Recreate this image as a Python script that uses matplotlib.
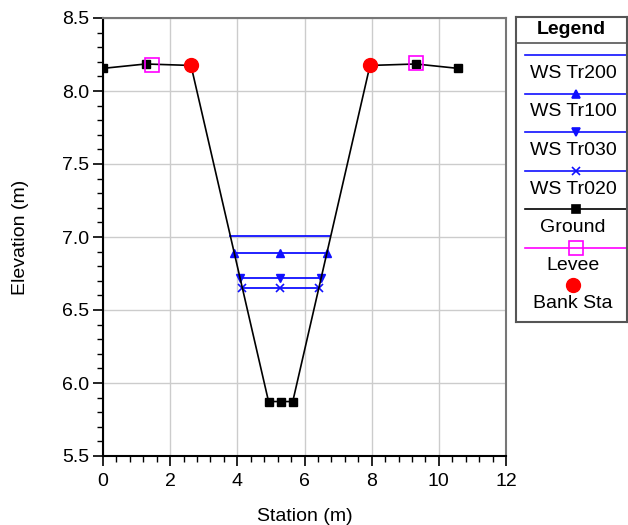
import matplotlib
matplotlib.use("Agg")
import matplotlib.pyplot as plt
from matplotlib.ticker import MultipleLocator

plt.rcParams["font.family"] = ["Liberation Sans", "DejaVu Sans"]
plt.rcParams["font.size"] = 14

# Cross-section data (station, elevation)
ground_x = [0.0, 1.27, 2.62, 4.93, 5.29, 5.65, 7.95, 9.32, 10.57]
ground_y = [8.155, 8.185, 8.175, 5.873, 5.873, 5.873, 8.175, 8.185, 8.155]

levee_x = [1.45, 9.32]
levee_y = [8.18, 8.19]

bank_x = [2.62, 7.95]
bank_y = [8.175, 8.175]

# Water surfaces: left edge, channel middle, right edge
ws200_x = [3.79, 6.76]
ws200_y = [7.01, 7.01]
ws100_x = [3.90, 5.28, 6.67]
ws100_y = [6.89, 6.89, 6.89]
ws030_x = [4.07, 5.28, 6.50]
ws030_y = [6.72, 6.72, 6.72]
ws020_x = [4.13, 5.28, 6.43]
ws020_y = [6.65, 6.65, 6.65]

blue = "#1010ff"

fig = plt.figure(figsize=(6.28, 5.25), dpi=100)
ax = fig.add_axes([103 / 628, 1 - 456 / 525, 403 / 628, 438 / 525])

ax.plot(ws200_x, ws200_y, color=blue, lw=1.3, zorder=3)
ax.plot(ws100_x, ws100_y, color=blue, lw=1.3, marker="^", ms=6, zorder=3)
ax.plot(ws030_x, ws030_y, color=blue, lw=1.3, marker="v", ms=6, zorder=3)
ax.plot(ws020_x, ws020_y, color=blue, lw=1.3, marker="x", ms=6, mew=1.2, zorder=3)
ax.plot(ground_x, ground_y, color="black", lw=1.2, marker="s", ms=6, zorder=4)
ax.plot(levee_x, levee_y, ls="none", marker="s", ms=10, mfc="none",
        mec="#ff00ff", mew=1.2, zorder=5)
ax.plot(bank_x, bank_y, ls="none", marker="o", ms=10, color="red", zorder=6)

ax.set_xlim(0, 12)
ax.set_ylim(5.5, 8.5)
ax.xaxis.set_major_locator(MultipleLocator(2))
ax.xaxis.set_minor_locator(MultipleLocator(0.4))
ax.yaxis.set_major_locator(MultipleLocator(0.5))
ax.yaxis.set_minor_locator(MultipleLocator(0.1))
ax.yaxis.set_major_formatter(plt.FormatStrFormatter("%.1f"))
ax.tick_params(which="major", direction="out", length=7, width=1.2)
ax.tick_params(which="minor", direction="out", length=4, width=1)
ax.tick_params(axis="x", pad=5)
ax.tick_params(axis="y", pad=3)
ax.grid(True, which="major", color="#cccccc", lw=1)
ax.set_axisbelow(True)
for s in ["left", "bottom"]:
    ax.spines[s].set_linewidth(1.5)
for s in ["top", "right"]:
    ax.spines[s].set_color("#777777")
    ax.spines[s].set_linewidth(1.5)

ax.set_xlabel("Station (m)", labelpad=13)
ax.set_ylabel("Elevation (m)", labelpad=24)

# Legend panel in pixel-like coordinates
lg = fig.add_axes([516 / 628, 1 - 322 / 525, 111 / 628, 305 / 525])
lg.set_xlim(0, 111)
lg.set_ylim(305, 0)
lg.set_xticks([])
lg.set_yticks([])
for s in lg.spines.values():
    s.set_color("#555555")
    s.set_linewidth(1.5)
lg.text(55.5, 12.5, "Legend", ha="center", va="center", fontweight="bold")
lg.axhline(26, color="#555555", lw=1.2)

entries = [
    ("WS Tr200", blue, None, 0, blue),
    ("WS Tr100", blue, "^", 6, blue),
    ("WS Tr030", blue, "v", 6, blue),
    ("WS Tr020", blue, "x", 6, blue),
    ("Ground", "black", "s", 6, "black"),
    ("Levee", "#ff00ff", "s", 10, "none"),
]
y0 = 38
for i, (name, col, mk, ms, fc) in enumerate(entries):
    yl = y0 + i * 38.5
    lg.plot([9, 111], [yl, yl], lw=1.2, color=col)
    if mk:
        lg.plot([60], [yl], ls="none", marker=mk, ms=ms, color=col,
                mfc=fc, mew=1.2)
    lg.text(57, yl + 18.5, name, ha="center", va="center")
lg.plot([57], [268], ls="none", marker="o", ms=10, color="red")
lg.text(57, 287, "Bank Sta", ha="center", va="center")

fig.savefig("out.png", dpi=100)
